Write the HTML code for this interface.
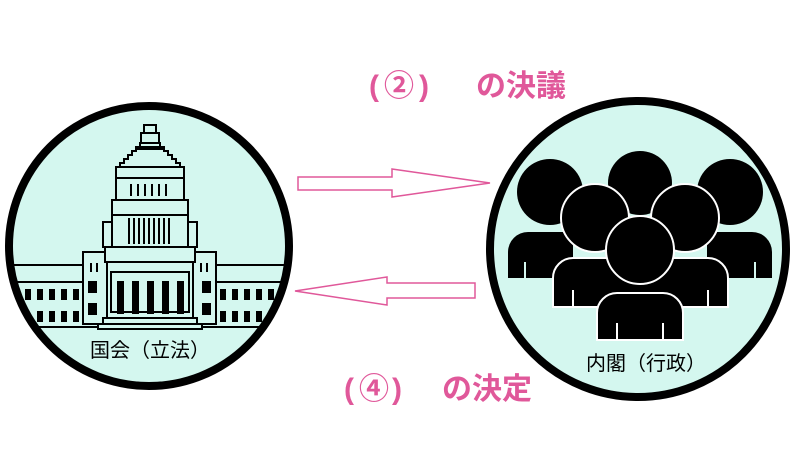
<!DOCTYPE html>
<html><head><meta charset="utf-8"><style>
html,body{margin:0;padding:0;background:#fff;}
body{width:799px;height:465px;position:relative;overflow:hidden;font-family:"Liberation Sans","Noto Sans CJK JP",sans-serif;}
.t{position:absolute;color:#e0589a;font-weight:bold;font-size:30px;white-space:pre;line-height:40px;font-family:"Liberation Sans","Noto Sans CJK JP",sans-serif;}
</style></head><body>
<svg width="799" height="465" style="position:absolute;left:0;top:0">
<defs>
<clipPath id="cl"><circle cx="149" cy="246" r="140"/></clipPath>
<clipPath id="cr"><circle cx="638" cy="249" r="148"/></clipPath>
</defs>
<circle cx="149" cy="246" r="140" fill="#d4f7ef"/>
<g clip-path="url(#cl)" stroke="#000" stroke-width="2" fill="#d4f7ef">
<line x1="0" y1="265" x2="300" y2="265"/>
<line x1="0" y1="282" x2="300" y2="282"/>
<line x1="0" y1="327" x2="300" y2="327"/>
<g fill="#000" stroke="none">
<rect x="25" y="289" width="6" height="11"/><rect x="37" y="289" width="6" height="11"/><rect x="49" y="289" width="6" height="11"/><rect x="61" y="289" width="6" height="11"/><rect x="73" y="289" width="6" height="11"/>
<rect x="37" y="311" width="6" height="11"/><rect x="49" y="311" width="6" height="11"/><rect x="61" y="311" width="6" height="11"/><rect x="73" y="311" width="6" height="11"/>
<rect x="220" y="289" width="6" height="11"/><rect x="232" y="289" width="6" height="11"/><rect x="244" y="289" width="6" height="11"/><rect x="256" y="289" width="6" height="11"/><rect x="268" y="289" width="6" height="11"/>
<rect x="220" y="311" width="6" height="11"/><rect x="232" y="311" width="6" height="11"/><rect x="244" y="311" width="6" height="11"/><rect x="256" y="311" width="6" height="11"/>
</g>
<rect x="83" y="252" width="24" height="72"/>
<rect x="192" y="252" width="24" height="72"/>
<g fill="#000" stroke="none">
<rect x="90" y="263" width="2" height="9"/><rect x="96" y="263" width="2" height="9"/>
<rect x="88" y="281" width="9" height="12"/><rect x="88" y="303" width="9" height="12"/>
<rect x="200" y="263" width="2" height="9"/><rect x="206" y="263" width="2" height="9"/>
<rect x="202" y="281" width="9" height="12"/><rect x="202" y="303" width="9" height="12"/>
</g>
<rect x="144" y="125" width="12" height="8"/>
<rect x="141" y="133" width="18" height="10"/>
<path d="M140 143H160V147H164V151H168V155H172V159H176V163H180V167H120V163H124V159H128V155H132V151H136V147H140Z"/>
<rect x="137" y="146" width="26" height="4" fill="#000" stroke="none"/>
<rect x="116" y="167" width="68" height="11"/>
<rect x="116" y="178" width="68" height="22"/>
<rect x="103" y="222" width="10" height="25"/><rect x="187" y="222" width="10" height="25"/>
<rect x="112" y="200" width="76" height="15"/>
<rect x="112" y="215" width="76" height="32"/>
<rect x="105" y="247" width="90" height="15"/>
<rect x="107" y="262" width="86" height="56"/>
<rect x="111" y="272" width="78" height="40"/>
<rect x="103" y="318" width="94" height="6"/>
<rect x="98" y="324" width="104" height="5"/>
<g fill="#000" stroke="none">
<rect x="130" y="184" width="2" height="12"/><rect x="137" y="184" width="2" height="12"/><rect x="144" y="184" width="2" height="12"/><rect x="151" y="184" width="2" height="12"/><rect x="158" y="184" width="2" height="12"/><rect x="165" y="184" width="2" height="12"/>
<rect x="128" y="218" width="2" height="26"/><rect x="133" y="218" width="2" height="26"/><rect x="138" y="218" width="2" height="26"/><rect x="143" y="218" width="2" height="26"/><rect x="148" y="218" width="2" height="26"/><rect x="153" y="218" width="2" height="26"/><rect x="158" y="218" width="2" height="26"/><rect x="163" y="218" width="2" height="26"/><rect x="168" y="218" width="2" height="26"/>
<rect x="117" y="281" width="7" height="33"/><rect x="132" y="281" width="7" height="33"/><rect x="147" y="281" width="7" height="33"/><rect x="162" y="281" width="7" height="33"/><rect x="177" y="281" width="7" height="33"/>
</g>
</g>
<circle cx="149" cy="246" r="140" fill="none" stroke="#000" stroke-width="8"/>
<text x="150" y="357" text-anchor="middle" font-size="20" font-family="Liberation Sans, Noto Sans CJK JP, sans-serif" fill="#000">国会（立法）</text>

<circle cx="638" cy="249" r="148" fill="#d4f7ef"/>
<g clip-path="url(#cr)" fill="#000" stroke="#d4f7ef" stroke-width="2">
<g stroke="none">
<path d="M508 278v-26a20 20 0 0 1 20-20h45v46z"/>
<path d="M772 278v-26a20 20 0 0 0-20-20h-45v46z"/>
<circle cx="550" cy="192" r="33"/><circle cx="640" cy="183" r="32"/><circle cx="730" cy="192" r="33"/>
</g>
<line x1="525" y1="262" x2="525" y2="279"/><line x1="755" y1="262" x2="755" y2="279"/>
<path d="M553 307v-29a20 20 0 0 1 20-20h135a20 20 0 0 1 20 20v29z" stroke="#fff"/>
<circle cx="595" cy="218" r="34" stroke="#fff"/><circle cx="685" cy="218" r="34" stroke="#fff"/>
<line x1="573" y1="290" x2="573" y2="308" stroke="#fff"/><line x1="708" y1="290" x2="708" y2="308" stroke="#fff"/>
<path d="M597 340v-27a20 20 0 0 1 20-20h46a20 20 0 0 1 20 20v27z" stroke="#fff"/>
<circle cx="640" cy="250" r="34" stroke="#fff"/>
<line x1="617" y1="323" x2="617" y2="341" stroke="#fff"/><line x1="663" y1="323" x2="663" y2="341" stroke="#fff"/>
</g>
<circle cx="638" cy="249" r="148" fill="none" stroke="#000" stroke-width="8"/>
<text x="646" y="370" text-anchor="middle" font-size="20" font-family="Liberation Sans, Noto Sans CJK JP, sans-serif" fill="#000">内閣（行政）</text>

<path d="M298 177H392V169L490 183L392 197V190H298Z" fill="#fff" stroke="#e0589a" stroke-width="1.5"/>
<path d="M475 283H387V277L295 291L387 305V298H475Z" fill="#fff" stroke="#e0589a" stroke-width="1.5"/>
</svg>
<div class="t" style="left:369px;top:67px;">(</div>
<div class="t" style="left:384px;top:67px;">②</div>
<div class="t" style="left:419px;top:67px;">)</div>
<div class="t" style="left:476px;top:67px;">の決議</div>
<div class="t" style="left:344px;top:370px;">(</div>
<div class="t" style="left:359px;top:370px;">④</div>
<div class="t" style="left:392px;top:370px;">)</div>
<div class="t" style="left:442px;top:370px;">の決定</div>
</body></html>
